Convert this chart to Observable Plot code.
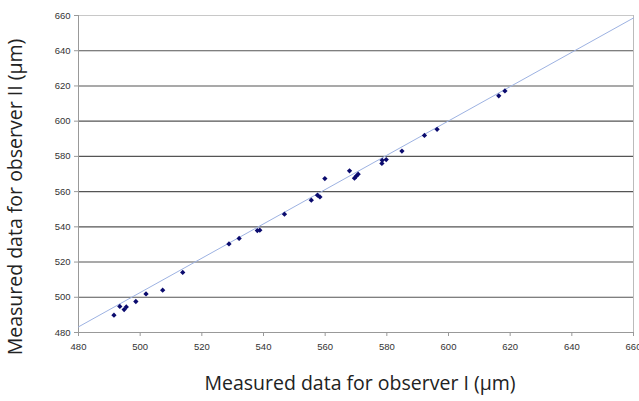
<!DOCTYPE html>
<html>
<head>
<meta charset="utf-8">
<script src="https://cdn.jsdelivr.net/npm/d3@7"></script>
<script src="https://cdn.jsdelivr.net/npm/@observablehq/plot@0.6"></script>
<style>
  html, body { margin: 0; padding: 0; background: white; }
</style>
</head>
<body>
<div id="chart"></div>
<script>
const xLabel = "Measured data for observer I (µm)";
const yLabel = "Measured data for observer II (µm)";
const xTicks = [480, 500, 520, 540, 560, 580, 600, 620, 640, 660];
const yTicks = [480, 500, 520, 540, 560, 580, 600, 620, 640, 660];

const observerI  = [491.5, 493.4, 494.8, 495.5, 498.6, 501.9, 507.3, 513.8, 528.8, 532.1, 538.0, 538.8, 546.8, 555.5, 557.5, 558.3, 559.9, 567.9, 569.5, 570.1, 570.7, 578.4, 578.5, 579.8, 584.9, 592.2, 596.3, 616.3, 618.3];
const observerII = [489.8, 494.8, 493.0, 494.5, 497.6, 501.9, 504.0, 514.1, 530.3, 533.4, 537.9, 538.1, 547.2, 555.1, 558.0, 557.0, 567.4, 571.8, 567.6, 568.8, 569.9, 576.0, 577.8, 578.2, 583.0, 591.9, 595.4, 614.4, 617.2];

const trendX = [480, 660];
const trendY = [483.2, 658.6];

const points = observerI.map((x, i) => ({x, y: observerII[i]}));
const trend = trendX.map((x, i) => ({x, y: trendY[i]}));
const gridY = yTicks.slice(1, -1);

const chart = Plot.plot({
  width: 639,
  height: 401,
  marginLeft: 78,
  marginRight: 6,
  marginTop: 15,
  marginBottom: 69,
  x: {domain: [480, 660]},
  y: {domain: [480, 660]},
  style: {fontFamily: "Liberation Sans, Arial, sans-serif", fontSize: "9.5px", color: "#333", background: "white"},
  marks: [
    Plot.ruleY(gridY, {stroke: "#555", strokeWidth: 1.1}),
    Plot.ruleY([660], {stroke: "#c8c8c8"}),
    Plot.ruleX([660], {stroke: "#bbb"}),
    Plot.ruleX([480], {stroke: "#999"}),
    Plot.ruleY([480], {stroke: "#999"}),
    Plot.line(trend, {x: "x", y: "y", stroke: "#9db2e2", strokeWidth: 1}),
    Plot.dot(points, {x: "x", y: "y", symbol: "square", rotate: 45, r: 2.1, fill: "#0b0b6e", stroke: null}),
    Plot.axisX({ticks: xTicks, tickSize: 4, stroke: "#999", text: null, label: null}),
    Plot.axisX({ticks: xTicks, tickSize: 0, tickPadding: 11, fill: "#333", label: null}),
    Plot.axisY({ticks: yTicks, tickSize: 4, stroke: "#999", text: null, label: null}),
    Plot.axisY({ticks: yTicks, tickSize: 0, tickPadding: 8, fill: "#333", label: null}),
    Plot.text([xLabel], {frameAnchor: "bottom", dx: 4, dy: 57, fontSize: 19.5, fontFamily: "Open Sans, sans-serif", fill: "#222"}),
    Plot.text([yLabel], {frameAnchor: "left", textAnchor: "middle", rotate: -90, dx: -63, dy: 23, fontSize: 19.5, fontFamily: "Open Sans, sans-serif", fill: "#222"})
  ]
});
document.getElementById("chart").appendChild(chart);
</script>
</body>
</html>
